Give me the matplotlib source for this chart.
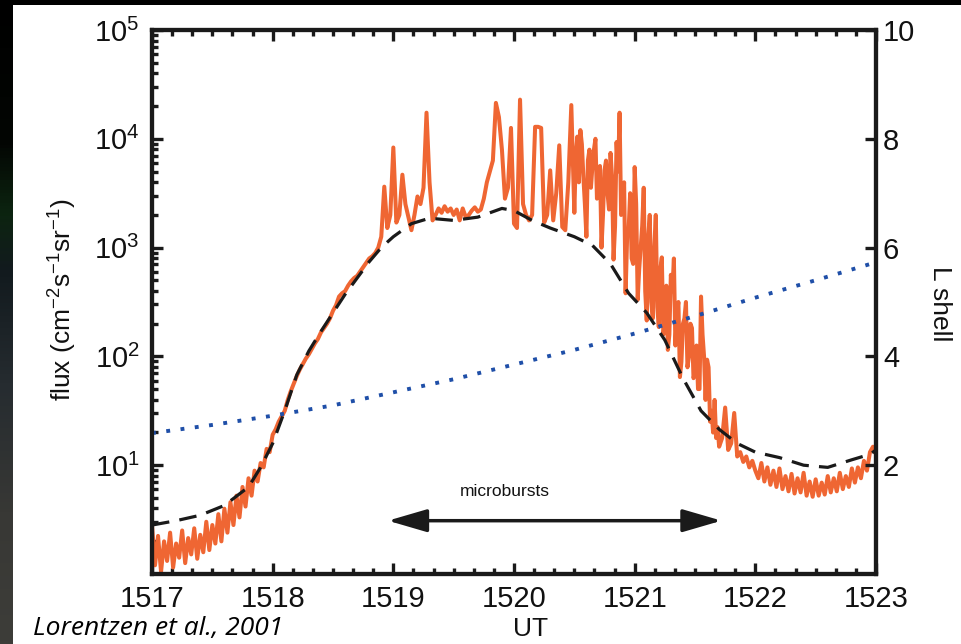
import numpy as np
import matplotlib
matplotlib.use("Agg")
import matplotlib.pyplot as plt
from matplotlib.colors import LinearSegmentedColormap
from matplotlib.ticker import LogLocator, MultipleLocator, NullFormatter, FixedLocator

plt.rcParams['font.family'] = ['Liberation Sans', 'DejaVu Sans']
plt.rcParams['mathtext.fontset'] = 'custom'
plt.rcParams['mathtext.rm'] = 'Liberation Sans'
plt.rcParams['mathtext.default'] = 'regular'

# measured electron flux, log10, sampled every 0.025 min from 1517 to 1523 UT
flux_log = [
    0.45, 0.08, 0.35, 0.02, 0.30, 0.12, 0.38, 0.06, 0.28, 0.15,
    0.40, 0.10, 0.33, 0.18, 0.42, 0.14, 0.36, 0.20, 0.48, 0.22,
    0.45, 0.28, 0.55, 0.30, 0.60, 0.38, 0.66, 0.45, 0.72, 0.52,
    0.80, 0.62, 0.88, 0.72, 0.95, 0.85, 1.02, 0.98, 1.15, 1.12,
    1.28, 1.33, 1.40, 1.45, 1.50, 1.60, 1.68, 1.75, 1.82, 1.88,
    1.93, 1.98, 2.02, 2.07, 2.12, 2.16, 2.22, 2.26, 2.30, 2.35,
    2.42, 2.47, 2.55, 2.58, 2.60, 2.65, 2.69, 2.72, 2.74, 2.78,
    2.82, 2.86, 2.90, 2.92, 2.95, 3.00, 3.10, 3.56, 3.18, 3.30,
    3.92, 3.23, 3.30, 3.67, 3.40, 3.28, 3.16, 3.30, 3.47, 3.40,
    3.55, 4.24, 3.60, 3.25, 3.30, 3.36, 3.32, 3.38, 3.33, 3.36,
    3.30, 3.35, 3.25, 3.36, 3.28, 3.30, 3.34, 3.37, 3.33, 3.35,
    3.45, 3.60, 3.70, 3.80, 4.33, 4.20, 3.90, 3.45, 3.55, 4.10,
    3.22, 3.18, 4.36, 3.40, 3.30, 3.25, 3.30, 4.11, 4.11, 4.10,
    3.23, 3.30, 3.71, 3.25, 3.50, 3.94, 3.19, 3.16, 3.60, 4.31,
    3.32, 4.02, 4.08, 3.65, 3.10, 3.90, 3.75, 4.00, 3.53, 3.00,
    3.71, 3.50, 3.87, 2.89, 3.97, 4.24, 3.32, 2.58, 3.16, 2.90,
    3.74, 2.52, 3.00, 3.55, 2.33, 3.30, 2.35, 3.30, 2.27, 2.91,
    2.30, 2.06, 2.75, 2.90, 2.40, 1.81, 2.30, 2.50, 2.00, 2.26,
    1.85, 1.70, 2.55, 2.00, 1.97, 1.40, 1.30, 1.25, 1.17, 1.25,
    1.53, 1.14, 1.20, 1.48, 1.08, 1.12, 1.03, 1.08, 0.98, 1.04,
    0.95, 0.88, 1.02, 0.85, 0.98, 0.82, 0.95, 0.80, 0.97, 0.78,
    0.90, 0.76, 0.92, 0.74, 0.88, 0.75, 0.93, 0.72, 0.85, 0.71,
    0.87, 0.72, 0.84, 0.73, 0.90, 0.75, 0.88, 0.76, 0.93, 0.78,
    0.90, 0.80, 0.97, 0.84, 0.98, 0.88, 1.04, 0.95, 1.12, 1.17,
    1.10,
]
flux_ut = np.linspace(1517.0, 1523.0, len(flux_log))

# extra samples in the dense microburst stretch, halfway between the ones above
burst_log = [
    3.85, 3.60, 3.95, 3.40, 3.80, 3.55, 3.90, 3.45, 3.75, 3.30,
    3.80, 3.35, 3.65, 3.20, 3.70, 3.30, 3.60, 3.10, 3.50, 2.85,
    3.40, 2.80, 3.20, 2.60, 3.10, 2.50, 3.00, 2.45, 2.80, 2.20,
    2.65, 2.20, 2.60, 2.10, 2.50, 1.95, 2.35, 1.90, 2.30, 1.80,
    2.10, 1.70, 2.20, 1.60, 1.90, 1.50, 1.60, 1.35,
]
burst_ut = np.linspace(1520.5125, 1521.6875, len(burst_log))

# smooth fit (dashed), log10 flux
fit_ut = [1517.0, 1517.2, 1517.4, 1517.6, 1517.8, 1517.9, 1518.0, 1518.1, 1518.2,
          1518.3, 1518.4, 1518.5, 1518.6, 1518.7, 1518.8, 1518.9, 1519.0, 1519.15,
          1519.3, 1519.5, 1519.7, 1519.9, 1520.0, 1520.15, 1520.3, 1520.5, 1520.65,
          1520.8, 1520.95, 1521.1, 1521.25, 1521.4, 1521.55, 1521.7, 1521.85,
          1522.0, 1522.2, 1522.4, 1522.6, 1522.8, 1522.95, 1523.0]
fit_log = [0.45, 0.49, 0.54, 0.63, 0.80, 0.98, 1.20, 1.50, 1.83, 2.05, 2.23, 2.40,
           2.57, 2.72, 2.87, 3.00, 3.10, 3.22, 3.27, 3.25, 3.28, 3.36, 3.34, 3.25,
           3.18, 3.10, 3.02, 2.85, 2.58, 2.40, 2.15, 1.80, 1.50, 1.33, 1.20, 1.12,
           1.07, 1.00, 0.98, 1.05, 1.10, 1.14]

# L shell (dotted, right axis)
lshell_ut = [1517.0, 1517.5, 1518.0, 1518.5, 1519.0, 1519.5, 1520.0, 1520.5,
             1521.0, 1521.5, 1522.0, 1522.5, 1523.0]
lshell = [2.59, 2.74, 2.91, 3.10, 3.34, 3.58, 3.85, 4.12, 4.42, 4.74, 5.08, 5.40, 5.73]

orange = '#EF6633'
blue = '#1F4FA8'
ink = '#1a1a1a'

all_ut = np.concatenate([flux_ut, burst_ut])
all_log = np.concatenate([flux_log, burst_log])
order = np.argsort(all_ut, kind='stable')

fig = plt.figure(figsize=(9.61, 6.44), dpi=100)
fig.patch.set_facecolor('white')

# dark slide edges: black band on top, gradient strip on the left
strip = fig.add_axes([0, 0, 13 / 961, 1])
cmap = LinearSegmentedColormap.from_list('edge', [
    (0.0, '#000000'), (0.22, '#030603'), (0.33, '#0c2410'), (0.42, '#121a1e'),
    (0.6, '#262c30'), (0.8, '#383835'), (1.0, '#3d3d39')])
strip.imshow(np.linspace(0, 1, 200)[:, None], aspect='auto', cmap=cmap)
strip.axis('off')
top = fig.add_axes([0, 1 - 5 / 644, 1, 5 / 644])
top.set_facecolor('black')
top.set_xticks([])
top.set_yticks([])
for s in top.spines.values():
    s.set_visible(False)

ax = fig.add_axes([152 / 961, 1 - 574 / 644, 724 / 961, 544 / 644])
ax.plot(all_ut[order], 10 ** all_log[order], color=orange, lw=2.9, zorder=2)
ax.plot(fit_ut, 10 ** np.array(fit_log), color=ink, lw=2.3, dashes=(5.5, 3.2), zorder=3)
ax.set_yscale('log')
ax.set_xlim(1517, 1523)
ax.set_ylim(1, 1e5)
ax.yaxis.set_major_locator(FixedLocator([1e1, 1e2, 1e3, 1e4, 1e5]))
ax.yaxis.set_minor_locator(LogLocator(base=10, subs=np.arange(2, 10), numticks=20))
ax.yaxis.set_minor_formatter(NullFormatter())
ax.xaxis.set_major_locator(MultipleLocator(1))
ax.xaxis.set_minor_locator(MultipleLocator(1 / 6))
ax.xaxis.set_major_formatter(plt.FuncFormatter(lambda v, p: '%d' % round(v)))

ax.tick_params(which='both', direction='in', top=True, right=False, width=2.4, colors=ink,
               labelsize=21, labelcolor='#111111')
ax.tick_params(which='major', length=8)
ax.tick_params(which='minor', length=4.5)
ax.tick_params(axis='x', pad=8)
ax.tick_params(axis='y', pad=9)
for s in ax.spines.values():
    s.set_linewidth(3)
    s.set_color(ink)

ax2 = ax.twinx()
ax2.plot(lshell_ut, lshell, color=blue, lw=2.8, linestyle=(0, (1, 2.7)))
ax2.set_ylim(0, 10)
ax2.set_yticks([2, 4, 6, 8, 10])
ax2.tick_params(direction='in', length=8, width=2.4, colors=ink, labelsize=21,
                labelcolor='#111111', pad=5)
for s in ax2.spines.values():
    s.set_linewidth(3)
    s.set_color(ink)

ax.annotate('', xy=(1521.72, 10 ** 0.49), xytext=(1518.955, 10 ** 0.49),
            arrowprops=dict(arrowstyle='<|-|>,head_length=1.2,head_width=0.35',
                            mutation_scale=20, lw=2.5, color=ink, shrinkA=0, shrinkB=0))
ax.text(1519.925, 10 ** 0.754, 'microbursts', ha='center', va='center', fontsize=12.5,
        color='#111111')

fig.text(63 / 961, 1 - 300 / 644, r'flux (cm$^{-2}$s$^{-1}$sr$^{-1}$)', rotation=90,
         ha='center', va='center', fontsize=19, color='#111111')
fig.text(940 / 961, 1 - 304 / 644, 'L shell', rotation=-90, ha='center', va='center',
         fontsize=19, color='#111111')
fig.text(531 / 961, 1 - 629 / 644, 'UT', ha='center', va='center', fontsize=19,
         color='#111111')
fig.text(33 / 961, 1 - 635 / 644, 'Lorentzen et al., 2001', ha='left', va='baseline',
         fontsize=19, style='italic', family=['Open Sans', 'DejaVu Sans'], color='black')

fig.savefig('out.png', dpi=100)
